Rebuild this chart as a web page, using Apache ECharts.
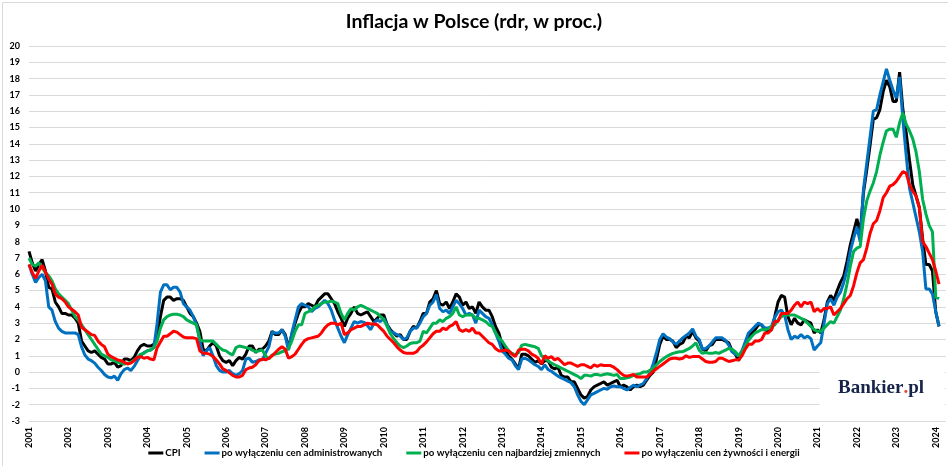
<!DOCTYPE html>
<html>
<head>
<meta charset="utf-8">
<script src="https://cdn.jsdelivr.net/npm/echarts@6/dist/echarts.min.js"></script>
<style>
html, body { margin: 0; padding: 0; background: #fff; }
#chart { width: 948px; height: 466px; }
</style>
</head>
<body>
<div id="chart"></div>
<script>
// miesiące: styczeń 2001 - luty 2024 (oś ma jeszcze 2 puste miesiące na końcu)
var years = [];
for (var y = 2001; y <= 2024; y++) years.push(y);
var months = [];
years.forEach(function (yr) {
    for (var m = 1; m <= 12; m++) {
        if (yr === 2024 && m > 4) break;
        months.push(yr + '-' + (m < 10 ? '0' : '') + m);
    }
});

var seriesNames = ['CPI', 'po wyłączeniu cen administrowanych', 'po wyłączeniu cen najbardziej zmiennych', 'po wyłączeniu cen żywności i energii'];

// CPI
var cpi = [
    7.4, 6.7, 6.2, 6.6, 6.9, 6.2, 5.2, 5.1, 4.3, 4.0, 3.6, 3.6,
    3.5, 3.5, 3.3, 3.0, 1.9, 1.6, 1.3, 1.2, 1.3, 1.1, 0.9, 0.8,
    0.5, 0.5, 0.6, 0.3, 0.4, 0.8, 0.8, 0.7, 0.9, 1.3, 1.6, 1.7,
    1.6, 1.6, 1.7, 2.2, 3.4, 4.4, 4.6, 4.6, 4.4, 4.5, 4.5, 4.4,
    4.0, 3.6, 3.4, 3.0, 2.5, 1.4, 1.3, 1.6, 1.8, 1.6, 1.0, 0.7,
    0.6, 0.7, 0.4, 0.7, 0.9, 0.8, 1.1, 1.6, 1.6, 1.2, 1.4, 1.4,
    1.6, 1.9, 2.5, 2.3, 2.3, 2.6, 2.3, 1.5, 2.3, 3.0, 3.6, 4.0,
    4.0, 4.2, 4.1, 4.0, 4.4, 4.6, 4.8, 4.8, 4.5, 4.2, 3.7, 3.3,
    2.8, 3.3, 3.6, 4.0, 3.6, 3.5, 3.6, 3.7, 3.4, 3.1, 3.3, 3.5,
    3.5, 2.9, 2.6, 2.4, 2.2, 2.3, 2.0, 2.0, 2.5, 2.8, 2.7, 3.1,
    3.6, 3.6, 4.3, 4.5, 5.0, 4.2, 4.1, 4.3, 3.9, 4.3, 4.8, 4.6,
    4.1, 4.3, 3.9, 4.0, 3.6, 4.3, 4.0, 3.8, 3.8, 3.4, 2.8, 2.4,
    1.7, 1.3, 1.0, 0.8, 0.5, 0.2, 1.1, 1.1, 1.0, 0.8, 0.6, 0.7,
    0.5, 0.7, 0.7, 0.3, 0.2, 0.3, -0.2, -0.3, -0.3, -0.6, -0.6, -1.0,
    -1.4, -1.6, -1.5, -1.1, -0.9, -0.8, -0.7, -0.6, -0.8, -0.7, -0.6, -0.5,
    -0.9, -0.8, -0.9, -1.1, -0.9, -0.8, -0.9, -0.8, -0.5, -0.2, 0.0, 0.8,
    1.7, 2.2, 2.0, 2.0, 1.9, 1.5, 1.7, 1.8, 2.2, 2.1, 2.5, 2.1,
    1.9, 1.4, 1.3, 1.6, 1.7, 2.0, 2.0, 2.0, 1.9, 1.8, 1.3, 1.1,
    0.7, 1.2, 1.7, 2.2, 2.4, 2.6, 2.9, 2.9, 2.6, 2.5, 2.6, 3.4,
    4.3, 4.7, 4.6, 3.4, 2.9, 3.3, 3.0, 2.9, 3.2, 3.1, 3.0, 2.4,
    2.6, 2.4, 3.2, 4.3, 4.7, 4.4, 5.0, 5.5, 5.9, 6.8, 7.8, 8.6,
    9.4, 8.5, 11.0, 12.4, 13.9, 15.5, 15.6, 16.1, 17.2, 17.9, 17.5, 16.6,
    16.6, 18.4, 16.1, 14.7, 13.0, 11.5, 10.8, 10.1, 8.2, 6.6, 6.6, 6.2,
    3.7, 2.8
];

// po wyłączeniu cen administrowanych
var exAdministered = [
    6.6, 6.0, 5.5, 5.8, 6.0, 5.6, 4.0, 3.8, 3.1, 2.7, 2.5, 2.4,
    2.4, 2.4, 2.4, 2.3, 1.55, 1.05, 0.8, 0.7, 0.55, 0.3, 0.1, -0.15,
    -0.3, -0.35, -0.25, -0.5, -0.1, 0.15, 0.25, 0.1, 0.35, 0.7, 1.0, 1.2,
    1.3, 1.35, 1.5, 3.0, 4.9, 5.35, 5.35, 5.05, 5.2, 5.2, 4.9, 4.2,
    4.0, 3.8, 3.4, 2.9, 1.9, 1.0, 1.3, 1.5, 1.0, 0.4, 0.1, 0.0,
    0.0, 0.1, -0.1, -0.2, -0.1, 0.1, 0.8, 0.85, 0.6, 0.65, 0.75, 0.75,
    1.15, 1.55, 2.45, 2.4, 2.4, 2.6, 2.2, 1.35, 2.4, 3.2, 4.0, 4.2,
    4.1, 4.0, 3.7, 3.9, 4.0, 4.2, 4.4, 4.2, 3.8, 3.2, 2.7, 2.2,
    1.8, 2.3, 2.7, 3.1, 3.0, 3.1, 3.05, 2.85, 2.6, 3.0, 3.2, 3.1,
    3.3, 2.9, 2.5, 2.4, 2.3, 2.2, 2.0, 2.1, 2.5, 2.7, 2.7, 3.0,
    3.4, 3.6, 4.1, 4.3, 4.75, 3.9, 3.7, 3.8, 3.6, 4.0, 4.4, 4.2,
    3.9, 3.5, 3.6, 3.5, 3.0, 3.8, 3.6, 3.4, 3.3, 2.9, 2.4, 1.9,
    1.3, 1.1, 0.85, 0.75, 0.4, 0.15, 0.8, 0.85, 0.75, 0.6, 0.45, 0.35,
    0.15, 0.45, 0.15, 0.05, -0.1, -0.25, -0.35, -0.45, -0.55, -0.65, -0.9, -1.4,
    -1.8, -2.0, -1.7, -1.4, -1.3, -1.2, -1.1, -1.0, -1.05, -0.9, -0.85, -0.9,
    -0.9, -1.0, -1.1, -0.95, -0.8, -0.9, -0.8, -0.7, -0.4, -0.05, 0.5, 1.2,
    2.0, 2.35, 2.15, 2.05, 1.85, 1.7, 1.9, 2.1, 2.25, 2.4, 2.65, 2.2,
    2.0, 1.4, 1.45, 1.6, 1.85, 2.1, 2.1, 2.1, 1.95, 1.65, 1.25, 1.1,
    1.0, 1.3, 1.85, 2.4, 2.6, 2.8, 3.0, 2.9, 2.7, 2.7, 2.8, 3.35,
    3.7, 3.8, 3.5, 2.6, 2.0, 2.2, 2.1, 2.3, 2.1, 2.2, 2.05, 1.35,
    1.6, 1.8, 3.0, 4.2, 4.5, 4.1, 4.6, 4.9, 5.5, 6.3, 7.4, 8.2,
    8.9, 8.0, 11.2, 12.8, 14.4, 16.0, 16.1, 17.0, 17.8, 18.6, 17.9, 17.3,
    16.8, 18.1, 15.5, 13.3, 11.3, 10.4, 9.5, 8.6, 7.4, 5.1, 5.1, 4.8,
    3.7, 2.8
];

// po wyłączeniu cen najbardziej zmiennych
var exVolatile = [
    7.0, 6.6, 6.5, 6.7, 6.4, 6.1, 5.9, 5.6, 5.1, 4.8, 4.6, 4.4,
    4.2, 3.8, 3.4, 3.2, 2.9, 2.6, 2.3, 2.0, 1.7, 1.4, 1.1, 1.0,
    0.9, 0.75, 0.7, 0.6, 0.55, 0.5, 0.55, 0.6, 0.75, 0.9, 1.1, 1.15,
    1.3, 1.35, 1.5, 1.9, 2.7, 3.2, 3.4, 3.5, 3.55, 3.55, 3.5, 3.4,
    3.2, 3.1, 3.0, 2.9, 2.0, 1.9, 1.9, 1.9, 1.9, 1.7, 1.5, 1.35,
    1.3, 1.15, 1.05, 1.5, 1.6, 1.55, 1.5, 1.45, 1.35, 1.25, 1.3, 1.35,
    1.0, 0.8, 1.05, 1.1, 1.15, 1.25, 1.3, 1.45, 1.9, 2.5, 2.9, 2.9,
    3.6, 3.7, 3.8, 4.0, 4.1, 4.2, 4.3, 4.3, 4.35, 4.3, 4.2, 3.6,
    3.2, 3.6, 3.9, 3.8, 4.0, 4.1, 4.0, 3.9, 3.8, 3.7, 3.6, 3.4,
    3.2, 2.8, 2.35, 2.05, 1.8, 1.6, 1.5, 1.6, 1.75, 1.8, 1.8, 1.9,
    2.5, 2.4, 2.7, 3.0, 3.0, 3.2, 3.1, 3.3, 3.4, 3.6, 4.0, 3.5,
    3.4, 3.5, 3.5, 3.5, 3.3, 3.3, 3.2, 3.1, 2.9, 2.8, 2.4, 2.1,
    1.9, 1.6, 1.3, 1.15, 1.05, 1.2, 1.65, 1.7, 1.65, 1.6, 1.55, 1.45,
    1.0, 0.85, 0.7, 0.55, 0.45, 0.35, 0.25, 0.15, 0.05, -0.05, -0.15, -0.25,
    -0.4, -0.2, -0.2, -0.25, -0.15, -0.15, -0.2, -0.15, -0.1, -0.15, -0.2, -0.15,
    -0.4, -0.4, -0.35, -0.3, -0.2, -0.15, -0.1, 0.0, 0.0, 0.1, 0.25, 0.45,
    0.65, 0.8, 0.95, 1.05, 1.15, 1.2, 1.25, 1.25, 1.35, 1.45, 1.6, 1.8,
    1.35, 1.15, 1.2, 1.15, 1.15, 1.2, 1.15, 1.25, 1.35, 1.45, 1.4, 1.25,
    1.0, 1.25, 1.6, 1.95, 2.2, 2.4, 2.5, 2.6, 2.6, 2.65, 2.8, 2.9,
    3.2, 3.4, 3.5, 3.5, 3.5, 3.5, 3.4, 3.3, 3.2, 3.0, 2.8, 2.6,
    2.5, 2.5, 2.7, 2.9, 3.1, 3.0, 3.4, 3.8, 4.5, 5.4, 6.5, 7.4,
    7.6, 7.7, 9.4, 10.5, 11.1, 11.6, 12.3, 13.3, 14.1, 14.8, 14.9, 14.9,
    14.4, 15.3, 15.9, 15.2, 14.8, 14.3, 13.5, 12.3, 10.6, 9.7, 9.0, 8.6,
    4.6, 4.5
];

// po wyłączeniu cen żywności i energii
var exFoodEnergy = [
    6.6, 6.1, 5.75, 6.2, 6.55, 6.15, 5.7, 5.4, 4.8, 4.6, 4.5, 4.3,
    4.0, 3.85, 3.7, 3.5, 2.75, 2.6, 2.45, 2.3, 2.25, 1.9, 1.7, 1.55,
    1.1, 0.95, 0.85, 0.75, 0.7, 0.6, 0.5, 0.55, 0.7, 0.9, 0.95, 0.85,
    0.9, 0.8, 0.75, 1.5, 1.85, 2.2, 2.2, 2.35, 2.5, 2.45, 2.3, 2.15,
    2.1, 2.1, 2.1, 2.05, 1.3, 1.15, 1.15, 1.1, 0.95, 0.75, 0.5, 0.2,
    0.1, -0.05, -0.2, -0.3, -0.3, -0.2, 0.15, 0.25, 0.3, 0.45, 0.7, 0.8,
    0.75, 0.85, 1.0, 1.2, 1.4, 1.55, 1.4, 0.85, 0.95, 1.1, 1.4, 1.7,
    1.95, 2.05, 2.1, 2.15, 2.2, 2.4, 2.7, 2.9, 3.0, 3.0, 2.9, 3.0,
    2.3, 2.4, 2.6, 2.7, 2.8, 2.8, 2.9, 3.0, 2.95, 2.95, 2.9, 2.7,
    2.5, 2.2, 2.0, 1.8, 1.55, 1.35, 1.2, 1.15, 1.15, 1.15, 1.25, 1.5,
    1.65, 1.85, 2.1, 2.35, 2.5, 2.5, 2.7, 2.6, 2.8, 2.9, 3.1, 2.6,
    2.5, 2.6, 2.5, 2.7, 2.4, 2.4, 2.2, 2.0, 1.8, 1.7, 1.45, 1.3,
    1.3, 1.35, 1.3, 1.1, 0.95, 1.35, 1.4, 1.4, 1.3, 1.1, 1.0, 0.85,
    0.5, 1.0, 0.85, 0.95, 0.75, 0.85, 0.65, 0.45, 0.55, 0.55, 0.45, 0.35,
    0.45, 0.45, 0.35, 0.25, 0.45, 0.35, 0.45, 0.4, 0.4, 0.4, 0.3, 0.15,
    -0.05, -0.2, -0.25, -0.2, -0.15, -0.3, -0.3, -0.3, -0.3, -0.15, 0.05, 0.2,
    0.35, 0.5, 0.65, 0.8, 0.85, 0.85, 0.8, 0.85, 1.0, 0.9, 0.95, 0.95,
    0.95, 0.8, 0.65, 0.6, 0.6, 0.65, 0.85, 0.85, 0.75, 0.65, 0.7, 0.75,
    0.75, 1.0, 1.4, 1.7, 1.7, 1.9, 1.9, 2.0, 2.4, 2.4, 2.6, 3.1,
    3.1, 3.6, 3.6, 3.6, 3.8, 4.1, 4.3, 4.0, 4.3, 4.2, 4.3, 3.7,
    3.9, 3.7, 3.9, 3.9, 4.0, 3.5, 3.7, 3.9, 4.2, 4.5, 4.7, 5.3,
    6.1, 6.7, 6.9, 7.6, 8.5, 9.1, 9.3, 9.9, 10.7, 11.0, 11.4, 11.5,
    11.7, 12.0, 12.3, 12.2, 11.5, 11.1, 10.8, 10.1, 8.0, 7.7, 7.3, 6.9,
    6.2, 5.4
];

var colors = ['#000000', '#0070C0', '#00B050', '#FF0000'];
var values = [cpi, exAdministered, exVolatile, exFoodEnergy];

var chart = echarts.init(document.getElementById('chart'));

var series = seriesNames.map(function (name, i) {
    return {
        name: name,
        type: 'line',
        data: values[i],
        symbol: 'none',
        lineStyle: { width: 3, color: colors[i] },
        itemStyle: { color: colors[i] },
        emphasis: { disabled: true },
        animation: false
    };
});

var option = {
    backgroundColor: '#ffffff',
    animation: false,
    title: {
        text: 'Inflacja w Polsce (rdr, w proc.)',
        left: 'center',
        top: 7,
        textStyle: {
            fontFamily: 'Lato',
            fontSize: 19.5,
            fontWeight: 'bold',
            color: '#000000'
        }
    },
    legend: {
        data: seriesNames,
        bottom: 3,
        left: 'center',
        icon: 'rect',
        itemWidth: 15,
        itemHeight: 3,
        itemGap: 24,
        textStyle: {
            fontFamily: 'Lato',
            fontSize: 9.7,
            fontWeight: 'bold',
            color: '#000000',
            padding: [0, 0, 0, -3]
        }
    },
    grid: {
        left: 29,
        right: 2.4,
        top: 46,
        bottom: 45,
        containLabel: false
    },
    xAxis: {
        type: 'category',
        data: months,
        boundaryGap: false,
        axisLine: { show: false },
        axisTick: { show: false },
        splitLine: { show: false },
        axisLabel: {
            interval: function (index, value) { return value.slice(5) === '01'; },
            formatter: function (value) { return value.slice(0, 4); },
            rotate: 90,
            margin: 6,
            fontFamily: 'Lato',
            fontSize: 9,
            fontWeight: 'bold',
            color: '#000000',
            hideOverlap: false
        }
    },
    yAxis: {
        type: 'value',
        min: -3,
        max: 20,
        interval: 1,
        axisLine: { show: false },
        axisTick: { show: false },
        axisLabel: {
            margin: 9,
            fontFamily: 'Lato',
            fontSize: 9,
            fontWeight: 'bold',
            color: '#000000'
        },
        splitLine: { lineStyle: { color: '#d9d9d9', width: 1 } }
    },
    graphic: [
        {
            type: 'rect',
            left: 0,
            top: 0,
            shape: { x: 0.5, y: 0.5, width: 947, height: 465 },
            style: { fill: 'none', stroke: '#d9d9d9', lineWidth: 1 },
            silent: true,
            z: 100
        },
        {
            type: 'rect',
            shape: { x: 819.5, y: 362, width: 125, height: 52 },
            style: { fill: '#ffffff' },
            silent: true,
            z: 50
        },
        {
            type: 'text',
            x: 838,
            y: 379,
            style: {
                text: '{a|Bankier}{b|.}{a|pl}',
                rich: {
                    a: { fontFamily: 'Liberation Serif', fontSize: 19, fontWeight: 'bold', fill: '#16244a' },
                    b: { fontFamily: 'Liberation Serif', fontSize: 19, fontWeight: 'bold', fill: '#e8462b' }
                }
            },
            silent: true,
            z: 51
        }
    ],
    series: series
};

chart.setOption(option);
window.onresize = chart.resize;
</script>
</body>
</html>
